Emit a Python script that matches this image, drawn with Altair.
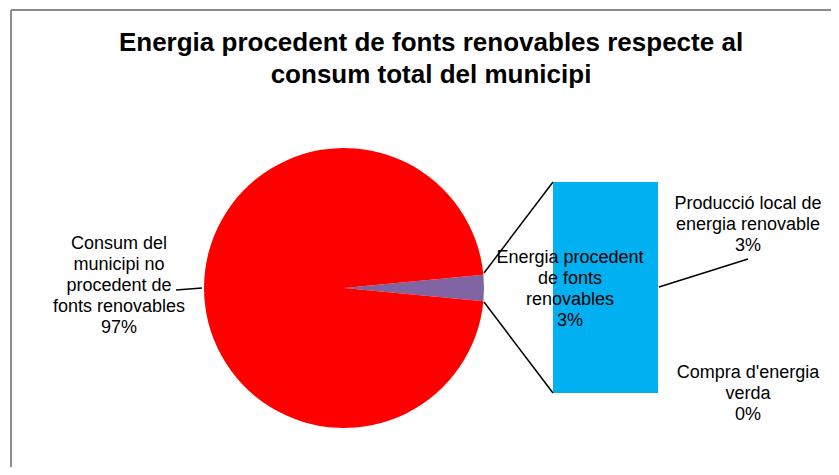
import math
import altair as alt
import pandas as pd

# ---- data ----
pie_categories = ["Energia procedent de fonts renovables",
                  "Consum del municipi no procedent de fonts renovables"]
pie_values = [3, 97]
pie_colors = ["#8064A2", "#FF0000"]

bar_categories = ["Producció local de energia renovable", "Compra d'energia verda"]
bar_values = [3, 0]

title_lines = ["Energia procedent de fonts renovables respecte al",
               "consum total del municipi"]

# wrapped label texts (as drawn in the original)
label_pie_main = ["Consum del", "municipi no", "procedent de", "fonts renovables"]
label_pie_small = ["Energia procedent", "de fonts", "renovables"]
label_bar_top = ["Producció local de", "energia renovable"]
label_bar_bottom = ["Compra d'energia", "verda"]

FONT = "Liberation Sans"
W, H = 823, 459

pie_df = pd.DataFrame({"cat": pie_categories, "val": pie_values,
                       "ord": list(range(len(pie_values)))})
bar_df = pd.DataFrame({"cat": bar_categories, "val": bar_values,
                       "ord": list(range(len(bar_values)))})

small_frac = pie_values[0] / sum(pie_values)
start = math.pi / 2 - small_frac * math.pi

pie = alt.Chart(pie_df).mark_arc(strokeWidth=0).encode(
    theta=alt.Theta("val:Q", stack=True,
                    scale=alt.Scale(range=[start, start + 2 * math.pi])),
    color=alt.Color("cat:N", scale=alt.Scale(domain=pie_categories, range=pie_colors),
                    legend=None),
    order=alt.Order("ord:Q", sort="ascending"),
    x=alt.value(336), y=alt.value(280), radius=alt.value(140),
)

bar = alt.Chart(bar_df).transform_stack(
    stack="val", groupby=[], as_=["v0", "v1"], sort=[alt.SortField("ord")]
).mark_rect(color="#00B0F0", strokeWidth=0).encode(
    y=alt.Y("v0:Q", scale=alt.Scale(domain=[0, sum(bar_values)], range=[385, 174]),
            axis=None),
    y2="v1:Q",
    x=alt.value(545), x2=alt.value(650),
)

def seg(x1, y1, x2, y2, color="black", width=1.5):
    return alt.Chart(pd.DataFrame({"a": [0]})).mark_rule(
        color=color, strokeWidth=width).encode(
        x=alt.value(x1), y=alt.value(y1), x2=alt.value(x2), y2=alt.value(y2))

lines = [
    seg(476, 265, 545, 174),
    seg(476, 294, 545, 385),
    seg(651, 279, 740, 251),
    seg(168, 282, 194, 280),
    seg(3, 2, 3, H, color="#8c8c8c", width=2),
    seg(3, 2, W, 2, color="#8c8c8c", width=2),
]

def label(lines_, x, y, size=18, bold=False, lh=21):
    txt = "\n".join(lines_)
    return alt.Chart(pd.DataFrame({"t": [txt]})).mark_text(
        font=FONT, fontSize=size, fontWeight="bold" if bold else "normal",
        lineBreak="\n", lineHeight=lh, align="center", baseline="alphabetic",
        color="black").encode(text="t:N", x=alt.value(x), y=alt.value(y))

pct = lambda v: f"{round(v)}%"

texts = [
    label(title_lines, 423, 43, size=26, bold=True, lh=32),
    label(label_pie_main + [pct(pie_values[1])], 111, 241),
    label(label_pie_small + [pct(pie_values[0])], 562, 255),
    label(label_bar_top + [pct(bar_values[0])], 740, 201),
    label(label_bar_bottom + [pct(bar_values[1])], 740, 370),
]

chart = alt.layer(pie, bar, *lines, *texts).properties(
    width=W, height=H, autosize=alt.AutoSizeParams(type="none"), padding=0,
).configure_view(stroke=None)

chart.save("out.html", embed_options={"renderer": "svg", "actions": False})
